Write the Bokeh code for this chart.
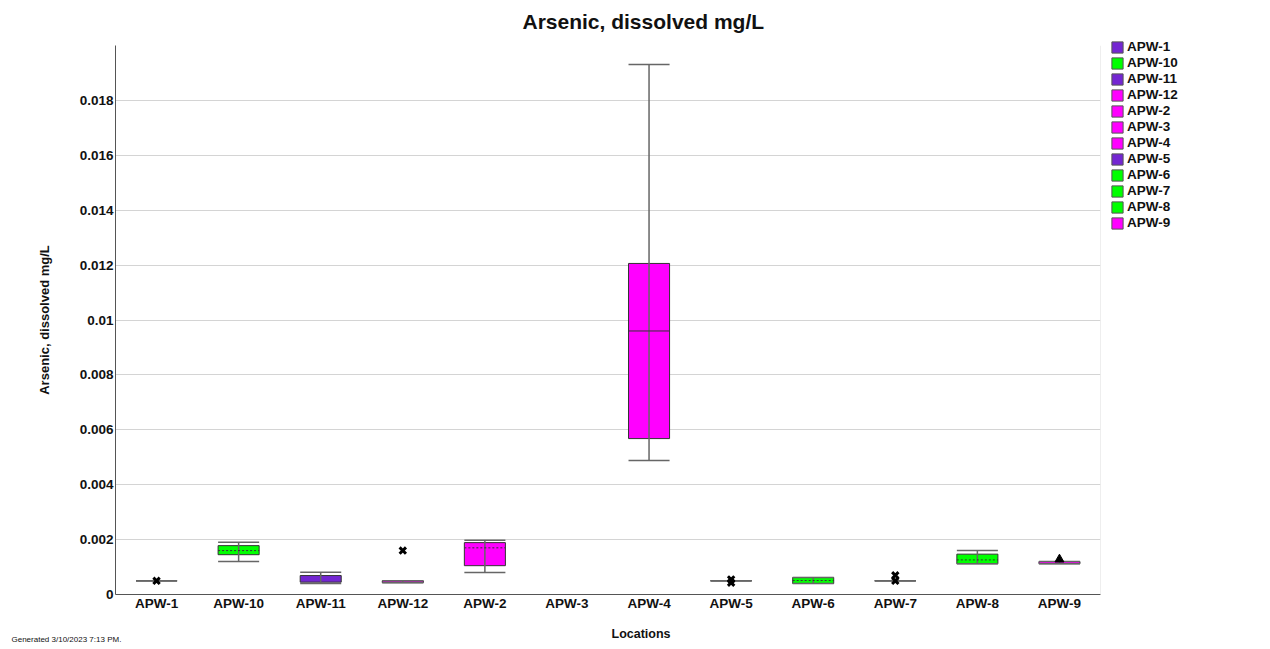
import math
from bokeh.plotting import figure
from bokeh.layouts import row
from bokeh.models import (Range1d, FixedTicker, Legend, LegendItem, Span, Label,
                          NumeralTickFormatter, ColumnDataSource)
from bokeh.embed import file_html
from bokeh.resources import INLINE

nan = float("nan")

locations = ["APW-1", "APW-10", "APW-11", "APW-12", "APW-2", "APW-3",
             "APW-4", "APW-5", "APW-6", "APW-7", "APW-8", "APW-9"]
group_color = ["#7426D2", "#00FF00", "#7426D2", "#FF00FF", "#FF00FF", "#FF00FF",
               "#FF00FF", "#7426D2", "#00FF00", "#00FF00", "#00FF00", "#FF00FF"]
q1 = [0.0005, 0.00145, 0.00045, 0.00043, 0.00105, nan, 0.00568, 0.0005, 0.0004, 0.0005, 0.00112, 0.00112]
q3 = [0.0005, 0.00178, 0.00069, 0.0005, 0.00189, nan, 0.01206, 0.0005, 0.00062, 0.0005, 0.00147, 0.0012]
whisker_lo = [0.0005, 0.0012, 0.0004, 0.00043, 0.0008, nan, 0.00488, 0.0005, 0.0004, 0.0005, 0.00112, 0.00112]
whisker_hi = [0.0005, 0.0019, 0.00081, 0.0005, 0.00198, nan, 0.01931, 0.0005, 0.00062, 0.0005, 0.0016, 0.0012]
median = [nan, nan, nan, nan, nan, nan, 0.0096, nan, nan, nan, nan, nan]
mean = [nan, 0.0016, nan, nan, 0.0017, nan, nan, nan, 0.00051, nan, 0.00126, nan]
outlier_loc = ["APW-1", "APW-12", "APW-5", "APW-5", "APW-7", "APW-7"]
outlier_val = [0.0005, 0.0016, 0.00055, 0.00043, 0.0007, 0.0005]
tri_loc = ["APW-9"]
tri_val = [0.00128]
y_ticks = [0, 0.002, 0.004, 0.006, 0.008, 0.01, 0.012, 0.014, 0.016, 0.018]

FONT = "Liberation Sans"
H = 649
FL, FR, FT, FB = 115, 1100, 45, 594
W1 = FR + 4
W2 = 160
half = 0.25

xc = [i + 0.5 for i in range(len(locations))]
pos = {loc: x for loc, x in zip(locations, xc)}

p = figure(width=W1, height=H, output_backend="svg", toolbar_location=None,
           x_range=Range1d(0, len(locations)), y_range=Range1d(0, 0.02),
           min_border_left=FL, min_border_right=W1 - FR, min_border_top=FT,
           min_border_bottom=H - FB)
p.outline_line_color = None
p.xgrid.visible = False
p.ygrid.grid_line_color = "#d4d4d4"
p.ygrid.ticker = FixedTicker(ticks=y_ticks)

# axes
p.xaxis.ticker = FixedTicker(ticks=xc)
p.xaxis.major_label_overrides = {x: loc for x, loc in zip(xc, locations)}
p.yaxis.ticker = FixedTicker(ticks=y_ticks)
p.yaxis.formatter = NumeralTickFormatter(format="0.[000]")
for ax in (p.xaxis, p.yaxis):
    ax.major_tick_line_color = None
    ax.minor_tick_line_color = None
    ax.major_tick_out = 0
    ax.major_tick_in = 0
    ax.minor_tick_out = 0
    ax.major_label_text_font = FONT
    ax.major_label_text_font_style = "bold"
    ax.major_label_text_font_size = "13.5px"
    ax.major_label_text_color = "#111111"
    ax.axis_line_color = "#555555"
p.xaxis.major_label_standoff = 1
p.yaxis.major_label_standoff = 2
p.yaxis.axis_label = "Arsenic, dissolved mg/L"
p.yaxis.axis_label_text_font = FONT
p.yaxis.axis_label_text_font_style = "bold"
p.yaxis.axis_label_text_font_size = "13px"
p.yaxis.axis_label_text_color = "#111111"
p.yaxis.axis_label_standoff = 25

# texts in the side panels (screen units relative to each panel)
p.add_layout(Label(x=522 - FL, y=24, x_units="screen", y_units="screen",
                   text="Arsenic, dissolved mg/L", text_align="left",
                   text_baseline="middle", text_font=FONT, text_font_style="bold",
                   text_font_size="21px", text_color="#111111"), "above")
p.add_layout(Label(x=611 - FL, y=-6, x_units="screen", y_units="screen",
                   text="Locations", text_align="left", text_baseline="middle",
                   text_font=FONT, text_font_style="bold", text_font_size="12.5px",
                   text_color="#111111"), "below")
p.add_layout(Label(x=11 - FL, y=-3, x_units="screen", y_units="screen",
                   text="Generated 3/10/2023 7:13 PM.", text_align="left",
                   text_baseline="middle", text_font=FONT, text_font_size="8px",
                   text_color="#111111"), "below")

p.add_layout(Span(location=len(locations), dimension="height", line_color="#dddddd", line_width=1))

# boxes
box_src = ColumnDataSource(dict(x=xc, q1=q1, q3=q3, lo=whisker_lo, hi=whisker_hi,
                                 med=median, mean=mean, color=group_color,
                                 xl=[x - half for x in xc], xr=[x + half for x in xc]))
p.vbar(x="x", width=2 * half, bottom="q1", top="q3", source=box_src,
       fill_color="color", line_color="#333333", line_width=1)
p.segment(x0="x", y0="lo", x1="x", y1="hi", source=box_src, line_color="#666666", line_width=1.5)
p.segment(x0="xl", y0="hi", x1="xr", y1="hi", source=box_src, line_color="#666666", line_width=1.5)
p.segment(x0="xl", y0="lo", x1="xr", y1="lo", source=box_src, line_color="#666666", line_width=1.5)
p.segment(x0="xl", y0="med", x1="xr", y1="med", source=box_src, line_color="#333333", line_width=1)
p.segment(x0="xl", y0="mean", x1="xr", y1="mean", source=box_src, line_color="#333333",
          line_width=1, line_dash="2 2")

# outliers and markers
p.scatter(x=[pos[l] for l in outlier_loc], y=outlier_val, marker="x", size=9,
          line_color="black", line_width=3)
p.scatter(x=[pos[l] for l in tri_loc], y=tri_val, marker="triangle", size=9,
          fill_color="black", line_color="black")

# legend in its own narrow figure to the right (in a side panel, so it is not clipped)
p2 = figure(width=W2, height=H, output_backend="svg", toolbar_location=None,
            x_range=Range1d(0, 1), y_range=Range1d(0, 1),
            x_axis_location=None, y_axis_location=None, min_border=0)
p2.outline_line_color = None
p2.grid.visible = False
items = []
for loc, c in zip(locations, group_color):
    r = p2.vbar(x=[nan], top=[nan], bottom=[nan], width=0.1, fill_color=c, line_color="#555555")
    items.append(LegendItem(label=loc, renderers=[r]))
legend = Legend(items=items, location=(6, 364), margin=0, padding=0,
                spacing=1, label_height=14, glyph_height=14, glyph_width=14,
                label_standoff=3, border_line_color=None, background_fill_alpha=0,
                label_text_font=FONT, label_text_font_style="bold",
                label_text_font_size="13.5px", label_text_color="#111111")
p2.add_layout(legend, "left")

layout = row(p, p2)
open("out.html", "w").write(file_html(layout, INLINE))
